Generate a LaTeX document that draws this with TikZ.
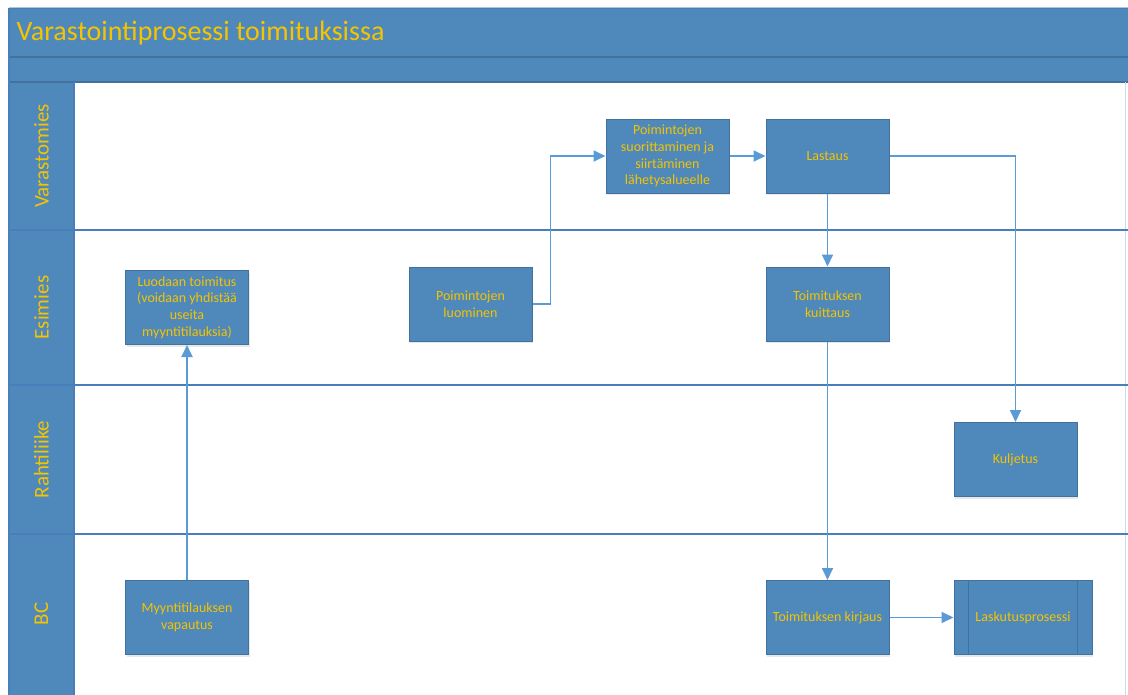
\documentclass[tikz,border=0pt]{standalone}
\usepackage{fontspec}
\setmainfont{Carlito}
\usetikzlibrary{arrows.meta,shadows}
\definecolor{laneblue}{HTML}{4F88BB}
\definecolor{edgeblue}{HTML}{41719C}
\definecolor{sepblue}{HTML}{4A7EBB}
\definecolor{gold}{HTML}{F5C400}
\definecolor{flow}{HTML}{5B9BD5}
\begin{document}
\begin{tikzpicture}[x=1pt,y=-1pt,
  stepbox/.style={draw=edgeblue, line width=1pt, fill=laneblue, text=gold,
    font=\fontsize{14}{16.7}\selectfont, align=center,
    minimum width=123pt, minimum height=74pt, inner sep=2pt,
    drop shadow={opacity=0.18, shadow xshift=1pt, shadow yshift=-2pt}},
  flowline/.style={draw=flow, line width=1.8pt, -{Triangle[length=12pt,width=11pt]}},
  lanetitle/.style={rotate=90, text=gold, font=\fontsize{21}{21}\selectfont},
  laneline/.style={draw=sepblue, line width=1.4pt}]
\useasboundingbox (0,0) rectangle (1128,694);
\fill[white] (0,0) rectangle (1128,694);

% pool header and lane label column
\fill[laneblue] (9,8) rectangle (1130,82);
\fill[laneblue] (9,82) rectangle (74,700);
\draw[edgeblue!40, line width=0.8pt] (9,7) -- (1130,7);
\draw[laneline] (9,8.5) -- (1130,8.5);
\draw[laneline, draw=edgeblue] (9,57) -- (1130,57);
\draw[laneline, draw=edgeblue] (9,82) -- (1130,82);
\draw[laneline] (9,8) -- (9,700);
\draw[laneline] (74,82) -- (74,700);
\draw[flow!35, line width=1pt] (1125,82) -- (1125,700);

% lane separators
\foreach \y in {230,385,534} \draw[laneline] (9,\y) -- (1130,\y);

\node[anchor=west, text=gold, font=\fontsize{28}{28}\selectfont] (title) at (13,33) {Varastointiprosessi toimituksissa};

\node[lanetitle] (lv) at (41.5,156) {Varastomies};
\node[lanetitle] (le) at (41.5,307.5) {Esimies};
\node[lanetitle] (lr) at (41.5,459.5) {Rahtiliike};
\node[lanetitle] (lb) at (41.5,614) {BC};

% process steps
\node[stepbox] (luo) at (187,307.5) {Luodaan toimitus\\(voidaan yhdistää\\useita\\myyntitilauksia)};
\node[stepbox] (poil) at (470.5,304) {Poimintojen\\luominen};
\node[stepbox] (poisu) at (667.5,156) {Poimintojen\\suorittaminen ja\\siirtäminen\\lähetysalueelle};
\node[stepbox] (last) at (827.5,156) {Lastaus};
\node[stepbox] (kuit) at (827.5,304) {Toimituksen\\kuittaus};
\node[stepbox] (kulj) at (1015.5,459.5) {Kuljetus};
\node[stepbox] (myy) at (187,617.5) {Myyntitilauksen\\vapautus};
\node[stepbox] (kirj) at (827.5,617.5) {Toimituksen kirjaus};
\node[stepbox, minimum width=138pt] (lask) at (1023,617.5) {Laskutusprosessi};
\draw[edgeblue, line width=1pt] ([xshift=15pt]lask.north west) -- ([xshift=15pt]lask.south west);
\draw[edgeblue, line width=1pt] ([xshift=-15pt]lask.north east) -- ([xshift=-15pt]lask.south east);

% flow
\draw[flowline] (myy) -- (luo);
\draw[flowline] (poil.east) -- ++(18,0) |- (poisu.west);
\draw[flowline] (poisu) -- (last);
\draw[flowline] (last) -- (kuit);
\draw[flowline] (last.east) -| (kulj.north);
\draw[flowline] (kuit) -- (kirj);
\draw[flowline] (kirj) -- (lask);
\end{tikzpicture}
\end{document}
